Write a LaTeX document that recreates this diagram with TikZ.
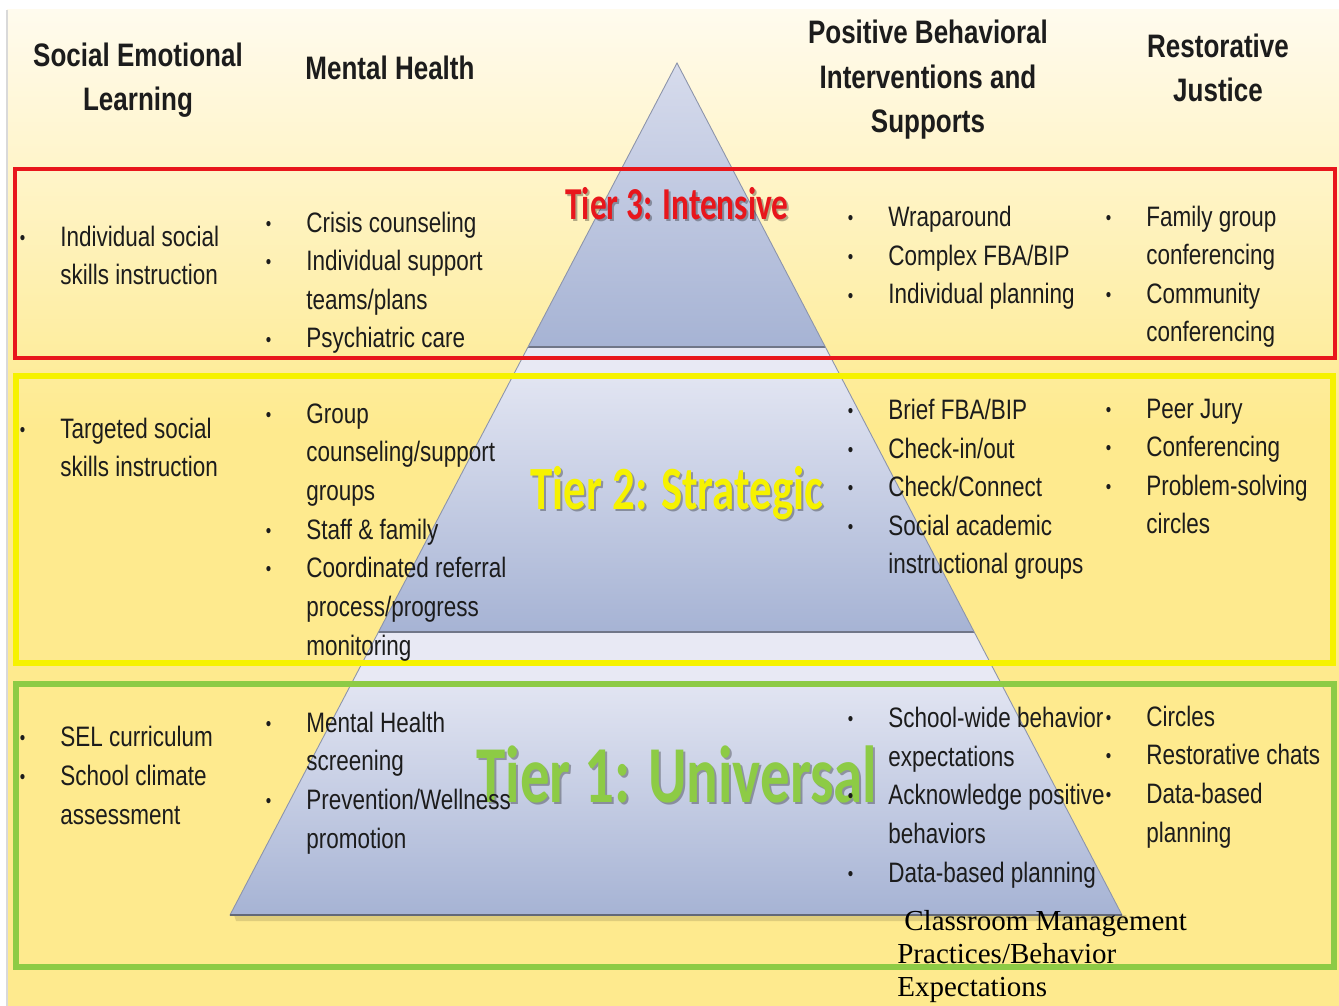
\documentclass[tikz,border=0pt]{standalone}
\usepackage{fontspec}
\setmainfont{Liberation Sans}[FakeStretch=0.8]
\newfontfamily\tierfont{Carlito}[FakeStretch=0.73]
\newfontfamily\notefont{Liberation Serif}
\definecolor{paper}{HTML}{FFFBEE}
\definecolor{butter}{HTML}{FEEA8E}
\definecolor{tierred}{HTML}{E8161C}
\definecolor{tieryellow}{HTML}{F6F200}
\definecolor{tiergreen}{HTML}{8DCB45}
\definecolor{pyrtop}{HTML}{E2E5F2}
\definecolor{pyrbot}{HTML}{A6B3D4}
\definecolor{pyrgap}{HTML}{E8E9F4}
\definecolor{pyredge}{HTML}{8C94AA}
\definecolor{ink}{HTML}{1C1C1C}
\newcommand{\bul}{\llap{\raisebox{1pt}{\fontsize{11}{11}\selectfont\textbullet}\hspace{0.7cm}}}

\begin{document}
\begin{tikzpicture}[x=0.02cm, y=-0.02cm,
    head/.style={font=\fontsize{18.5}{25.6}\selectfont\bfseries, text=ink,
                 align=center, anchor=base, inner sep=0pt},
    item/.style={font=\fontsize{16}{22}\selectfont, text=ink,
                 align=left, anchor=base west, inner sep=0pt},
    tier/.style={font=\tierfont\bfseries\fontsize{#1}{#1}\selectfont,
                 anchor=base, inner sep=0pt},
    tiershadow/.style={text=black, opacity=0.3},
    note/.style={font=\notefont\fontsize{16.5}{18.5}\selectfont, text=black,
                 align=left, anchor=base west, inner sep=0pt},
    segline/.style={draw=pyredge!80!black, line width=0.9pt}
  ]
    \useasboundingbox (0,0) rectangle (1339,1006);

    % page background
    \fill[white] (0,0) rectangle (1339,1006);
    \shade[top color=paper, bottom color=butter] (7,10) rectangle (1339,430);
    \fill[butter] (7,429) rectangle (1339,1006);
    \draw[gray!30, line width=0.6pt] (7,10) -- (7,1006);

    % pyramid
    \coordinate (apex) at (677,63);
    \coordinate (baseL) at (230,915);
    \coordinate (baseR) at (1122,915);
    \fill[black, opacity=0.12] (234,915) -- (1126,915) -- (1128,921) -- (236,921) -- cycle;
    \begin{scope}
      \clip (apex) -- (baseR) -- (baseL) -- cycle;
      \fill[pyrgap] (200,50) rectangle (1150,920);
      \shade[top color=pyrtop!85!pyrbot, bottom color=pyrbot] (200,50) rectangle (1150,347);
      \shade[top color=pyrtop, bottom color=pyrbot] (200,375) rectangle (1150,632);
      \shade[top color=pyrtop, bottom color=pyrbot] (200,683) rectangle (1150,915);
      \draw[segline] (200,347) -- (1150,347);
      \draw[segline] (200,632) -- (1150,632);
    \end{scope}
    \draw[pyredge, line width=0.5pt] (apex) -- (baseR) -- (baseL) -- cycle;
    \draw[pyredge!70!black, line width=1.2pt] (baseL) -- (baseR);

    % tier frames
    \draw[tierred, line width=2.8pt] (15,169) rectangle (1335,358);
    \draw[tieryellow, line width=3.6pt] (16,376) rectangle (1333,663);
    \draw[tiergreen, line width=3pt] (16,684) rectangle (1334,967);

    % column heads (placed by their last line)
    \node[head] (selhead)  at (138,111) {Social Emotional\\Learning};
    \node[head] (mhhead)   at (390,80)  {Mental Health};
    \node[head] (pbishead) at (928,133) {Positive Behavioral\\Interventions and\\Supports};
    \node[head] (rjhead)   at (1218,102) {Restorative\\Justice};

    % tier names
    \node[tier=26, tiershadow] (tier3s) at (679,222) {Tier 3: Intensive};
    \node[tier=26, text=tierred] (tier3) at (677,220) {Tier 3: Intensive};
    \node[tier=35, tiershadow] (tier2s) at (679,512) {Tier 2: Strategic};
    \node[tier=35, text=tieryellow] (tier2) at (677,510) {Tier 2: Strategic};
    \node[tier=46, tiershadow] (tier1s) at (679,804) {Tier 1: Universal};
    \node[tier=46, text=tiergreen] (tier1) at (677,802) {Tier 1: Universal};

    % tier 3
    \node[item] (sel3)  at (60,285)   {\bul Individual social\\skills instruction};
    \node[item] (mh3)   at (306,348)  {\bul Crisis counseling\\\bul Individual support\\teams/plans\\\bul Psychiatric care};
    \node[item] (pbis3) at (888,304)  {\bul Wraparound\\\bul Complex FBA/BIP\\\bul Individual planning};
    \node[item] (rj3)   at (1146,342) {\bul Family group\\conferencing\\\bul Community\\conferencing};

    % tier 2
    \node[item] (sel2)  at (60,477)   {\bul Targeted social\\skills instruction};
    \node[item] (mh2)   at (306,655)  {\bul Group\\counseling/support\\groups\\\bul Staff \& family\\\bul Coordinated referral\\process/progress\\monitoring};
    \node[item] (pbis2) at (888,574)  {\bul Brief FBA/BIP\\\bul Check-in/out\\\bul Check/Connect\\\bul Social academic\\instructional groups};
    \node[item] (rj2)   at (1146,534) {\bul Peer Jury\\\bul Conferencing\\\bul Problem-solving\\circles};

    % tier 1
    \node[item] (sel1)  at (60,824)   {\bul SEL curriculum\\\bul School climate\\assessment};
    \node[item] (mh1)   at (306,848)  {\bul Mental Health\\screening\\\bul Prevention/Wellness\\promotion};
    \node[item] (pbis1) at (888,882)  {\bul School-wide behavior\\expectations\\\bul Acknowledge positive\\behaviors\\\bul Data-based planning};
    \node[item] (rj1)   at (1146,842) {\bul Circles\\\bul Restorative chats\\\bul Data-based\\planning};

    \node[note] (cmnote) at (897,996) {\hspace{4pt}Classroom Management\\Practices/Behavior\\Expectations};
  \end{tikzpicture}
\end{document}
